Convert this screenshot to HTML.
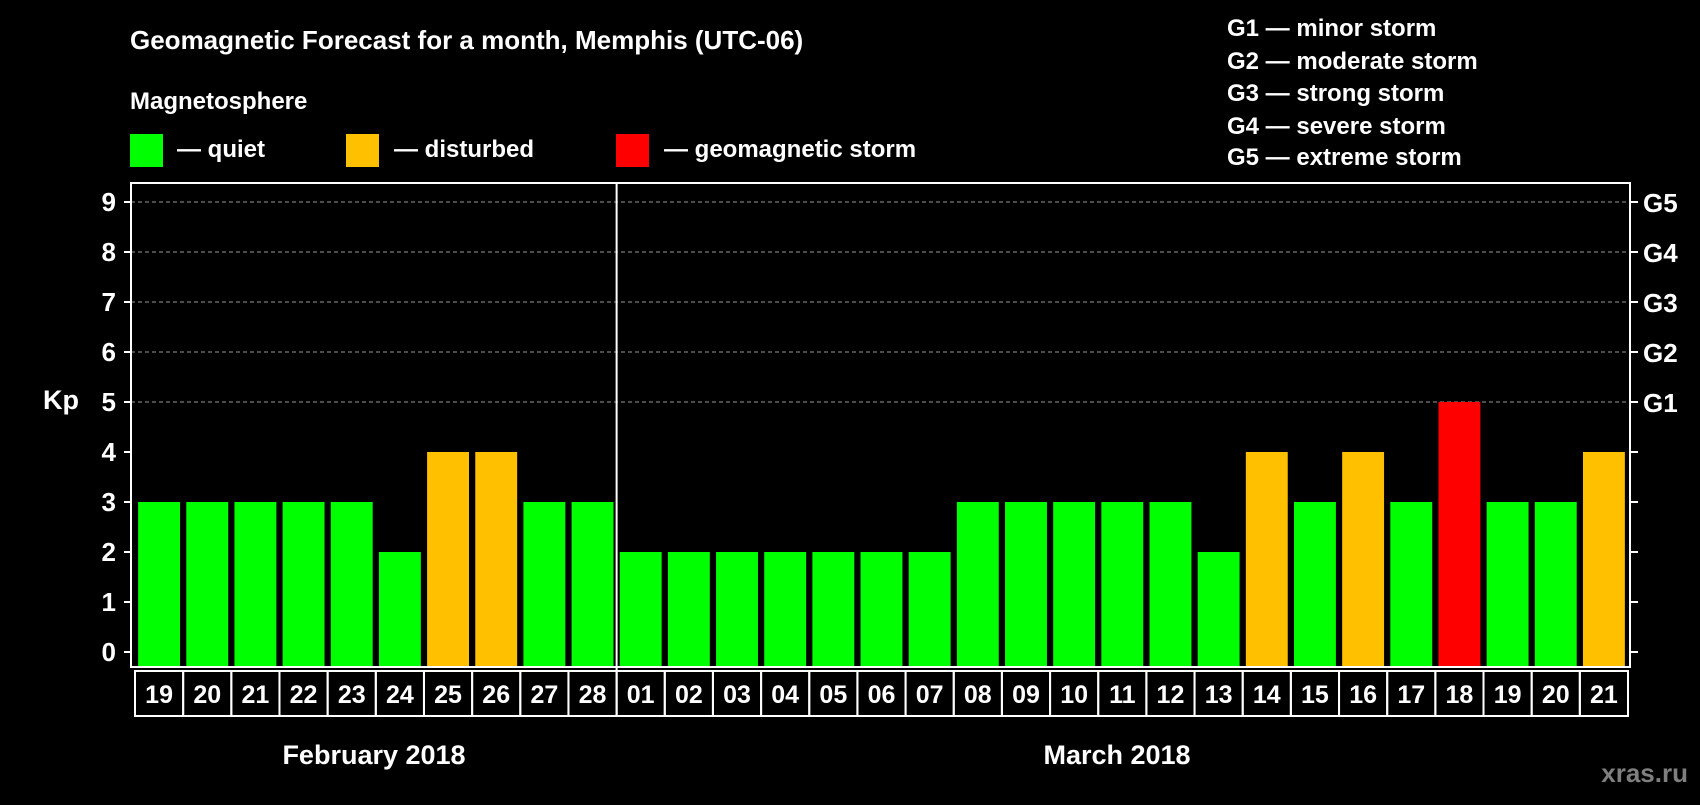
<!DOCTYPE html>
<html><head><meta charset="utf-8"><style>
body{margin:0;background:#000;}
svg text{font-family:"Liberation Sans",sans-serif;font-weight:bold;fill:#fff;}
</style></head><body>
<svg width="1700" height="800" xmlns="http://www.w3.org/2000/svg">
<rect width="1700" height="800" fill="#000"/>
<text x="130" y="49" font-size="26">Geomagnetic Forecast for a month, Memphis (UTC-06)</text>
<text x="130" y="109" font-size="24">Magnetosphere</text>
<rect x="130" y="134" width="33" height="33" fill="#00ff00"/>
<text x="177" y="157" font-size="24">— quiet</text>
<rect x="346" y="134" width="33" height="33" fill="#ffc000"/>
<text x="394" y="157" font-size="24">— disturbed</text>
<rect x="616" y="134" width="33" height="33" fill="#ff0000"/>
<text x="664" y="157" font-size="24">— geomagnetic storm</text>
<g font-size="24">
<text x="1227" y="36">G1 — minor storm</text>
<text x="1227" y="69">G2 — moderate storm</text>
<text x="1227" y="101">G3 — strong storm</text>
<text x="1227" y="134">G4 — severe storm</text>
<text x="1227" y="165">G5 — extreme storm</text>
</g>
<text x="43" y="409" font-size="27">Kp</text>
<g id="plot"></g>
<text x="374" y="764" font-size="27" text-anchor="middle">February 2018</text>
<text x="1117" y="764" font-size="27" text-anchor="middle">March 2018</text>
<text x="1688" y="782" font-size="26" text-anchor="end" style="fill:#7f7f7f">xras.ru</text>
</svg>
<script>
const days=["19","20","21","22","23","24","25","26","27","28","01","02","03","04","05","06","07","08","09","10","11","12","13","14","15","16","17","18","19","20","21"].slice(0,31);
const kp=[3,3,3,3,3,2,4,4,3,3,2,2,2,2,2,2,2,3,3,3,3,3,2,4,3,4,3,5,3,3,4];
const yTicks=[0,1,2,3,4,5,6,7,8,9];
const gLabels=["G1","G2","G3","G4","G5"];
const NS="http://www.w3.org/2000/svg";
const g=document.getElementById('plot');
const L=131,R=1630,T=183,B=667,Y0=652,UNIT=50;
const n=kp.length;
const slot=(R-L-6)/n;
const y=v=>Y0-v*UNIT;
const xc=i=>L+4+slot*(i+0.5);
function mk(t,a){const e=document.createElementNS(NS,t);for(const k in a)e.setAttribute(k,a[k]);g.appendChild(e);return e;}
yTicks.forEach(v=>{
 if(v>=5){const l=mk('line',{x1:L,x2:R,y1:y(v),y2:y(v),stroke:'#999','stroke-dasharray':'4,3','stroke-width':1});
 
 }
 const t1=mk('line',{x1:L-7,x2:L,y1:y(v),y2:y(v),stroke:'#fff','stroke-width':2});
 
 
 const t2=mk('line',{x1:R,x2:R+8,y1:y(v),y2:y(v),stroke:'#fff','stroke-width':2});
 
 
 const tx=mk('text',{x:L-15,y:y(v)+9,'font-size':26,'text-anchor':'end'});tx.textContent=v;
 
 
});
gLabels.forEach((s,i)=>{const tx=mk('text',{x:R+13,y:y(5+i)+10,'font-size':26});tx.textContent=s;
 
 });
kp.forEach((v,i)=>{
 const col=v>=5?'#ff0000':v>=4?'#ffc000':'#00ff00';
 const bw=slot*0.87;
 const b=mk('rect',{x:xc(i)-bw/2,y:y(v),width:bw,height:B-y(v),fill:col});
 
 
 const c=mk('rect',{x:xc(i)-slot/2,y:B+4,width:slot,height:45,fill:'none',stroke:'#fff','stroke-width':2});
 
 
 const tx=mk('text',{x:xc(i),y:B+36,'font-size':25,'text-anchor':'middle'});tx.textContent=days[i];
 
 
});
const fr=mk('rect',{x:L,y:T,width:R-L,height:B-T,fill:'none',stroke:'#fff','stroke-width':2});


const sx=xc(10)-slot/2;
const sep=mk('line',{x1:sx,x2:sx,y1:T,y2:B+49,stroke:'#fff','stroke-width':2});


</script>
</body></html>
